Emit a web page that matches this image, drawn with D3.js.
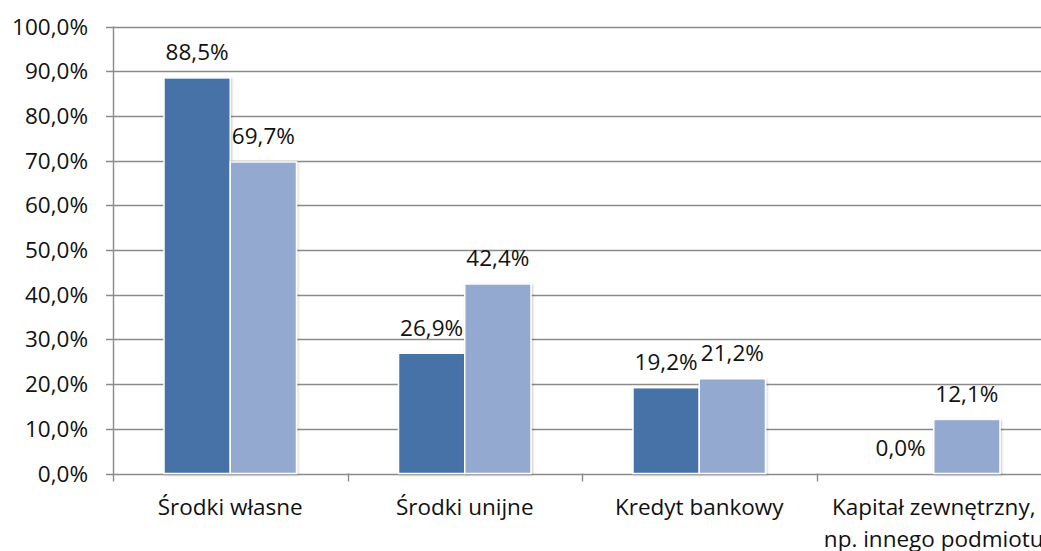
<!DOCTYPE html>
<html>
<head>
<meta charset="utf-8">
<style>
    body { margin: 0; background: #fff; }
    svg { display: block; font-family: 'Open Sans', 'DejaVu Sans', sans-serif; }
</style>
</head>
<body>
<svg width="1041" height="551"></svg>
<script src="https://cdn.jsdelivr.net/npm/d3@7/dist/d3.min.js"></script>
<script>
    // chart data
    let categories = ["Środki własne", "Środki unijne", "Kredyt bankowy", "Kapitał zewnętrzny, np. innego podmiotu"]
    let categoryLines = [["Środki własne"], ["Środki unijne"], ["Kredyt bankowy"], ["Kapitał zewnętrzny,", "np. innego podmiotu"]]
    let seriesNames = ["seria1", "seria2"]
    let series1 = [88.5, 26.9, 19.2, 0.0]
    let series2 = [69.7, 42.4, 21.2, 12.1]
    let yTicks = [0, 10, 20, 30, 40, 50, 60, 70, 80, 90, 100]

    let colors = ["#4672a8", "#94a9cf"]
    let gridColor = "#8a8a8a"
    let fontSize = "22.5px"

    let svg = d3.select("svg")

    let plotLeft = 113, plotRight = 1051, plotTop = 26.5, plotBottom = 473.5

    let x0 = d3.scaleBand()
        .domain(categories)
        .range([plotLeft, plotRight])

    let x1 = d3.scaleBand()
        .domain(seriesNames)
        .range([0, x0.bandwidth()])
        .paddingOuter(0.77)

    let y = d3.scaleLinear()
        .domain([0, 100])
        .range([plotBottom, plotTop])

    let fmt = v => d3.format(".1f")(v).replace(".", ",") + "%"

    // drop shadow for bars
    let defs = svg.append("defs")
    let f = defs.append("filter").attr("id", "shadow")
        .attr("x", "-10%").attr("y", "-10%").attr("width", "130%").attr("height", "130%")
    f.append("feDropShadow")
        .attr("dx", 1).attr("dy", 1).attr("stdDeviation", 1.2)
        .attr("flood-color", "#000").attr("flood-opacity", 0.22)

    // gridlines
    svg.append("g")
        .selectAll("line")
        .data(yTicks)
        .join("line")
        .attr("x1", plotLeft - 7)
        .attr("x2", plotRight)
        .attr("y1", d => Math.round(y(d)) + 0.5)
        .attr("y2", d => Math.round(y(d)) + 0.5)
        .style("stroke", gridColor)
        .style("stroke-width", 1.4)

    // y axis line
    svg.append("line")
        .attr("x1", plotLeft + 0.5).attr("x2", plotLeft + 0.5)
        .attr("y1", plotTop).attr("y2", plotBottom + 0.5)
        .style("stroke", gridColor)
        .style("stroke-width", 1.4)

    // y tick labels
    svg.append("g")
        .selectAll("text")
        .data(yTicks)
        .join("text")
        .attr("x", 88)
        .attr("y", d => y(d) + 8)
        .attr("text-anchor", "end")
        .style("font-size", fontSize)
        .style("fill", "#111")
        .text(d => fmt(d))

    // category ticks
    svg.append("g")
        .selectAll("line")
        .data(categories)
        .join("line")
        .attr("x1", d => Math.round(x0(d)) + 0.5)
        .attr("x2", d => Math.round(x0(d)) + 0.5)
        .attr("y1", plotBottom)
        .attr("y2", plotBottom + 8)
        .style("stroke", gridColor)
        .style("stroke-width", 1.4)

    // bars
    let data = categories.map((c, i) => ({ cat: c, vals: [series1[i], series2[i]] }))

    let groups = svg.append("g")
        .selectAll("g")
        .data(data)
        .join("g")
        .attr("transform", d => "translate(" + x0(d.cat) + ",0)")

    groups.selectAll("rect")
        .data(d => d.vals.map((v, j) => ({ v: v, s: seriesNames[j], j: j })).filter(e => e.v > 0))
        .join("rect")
        .attr("x", d => x1(d.s))
        .attr("width", x1.bandwidth())
        .attr("y", d => y(d.v))
        .attr("height", d => y(0) - y(d.v))
        .style("fill", d => colors[d.j])
        .style("stroke", "#fff")
        .style("stroke-width", 1.5)
        .attr("filter", "url(#shadow)")

    groups.selectAll(".val")
        .data(d => d.vals.map((v, j) => ({ v: v, s: seriesNames[j] })))
        .join("text")
        .attr("class", "val")
        .attr("x", d => x1(d.s) + x1.bandwidth() / 2)
        .attr("y", d => y(d.v) - 17.5)
        .attr("text-anchor", "middle")
        .style("font-size", fontSize)
        .style("fill", "#111")
        .text(d => fmt(d.v))

    // category labels
    svg.append("g")
        .selectAll("text")
        .data(categories)
        .join("text")
        .attr("x", d => x0(d) + x0.bandwidth() / 2)
        .attr("y", 515)
        .attr("text-anchor", "middle")
        .style("font-size", fontSize)
        .style("fill", "#111")
        .each(function (d, i) {
            d3.select(this).selectAll("tspan")
                .data(categoryLines[i])
                .join("tspan")
                .attr("x", x0(d) + x0.bandwidth() / 2)
                .attr("dy", (t, k) => k === 0 ? 0 : 32)
                .text(t => t)
        })
</script>
</body>
</html>
